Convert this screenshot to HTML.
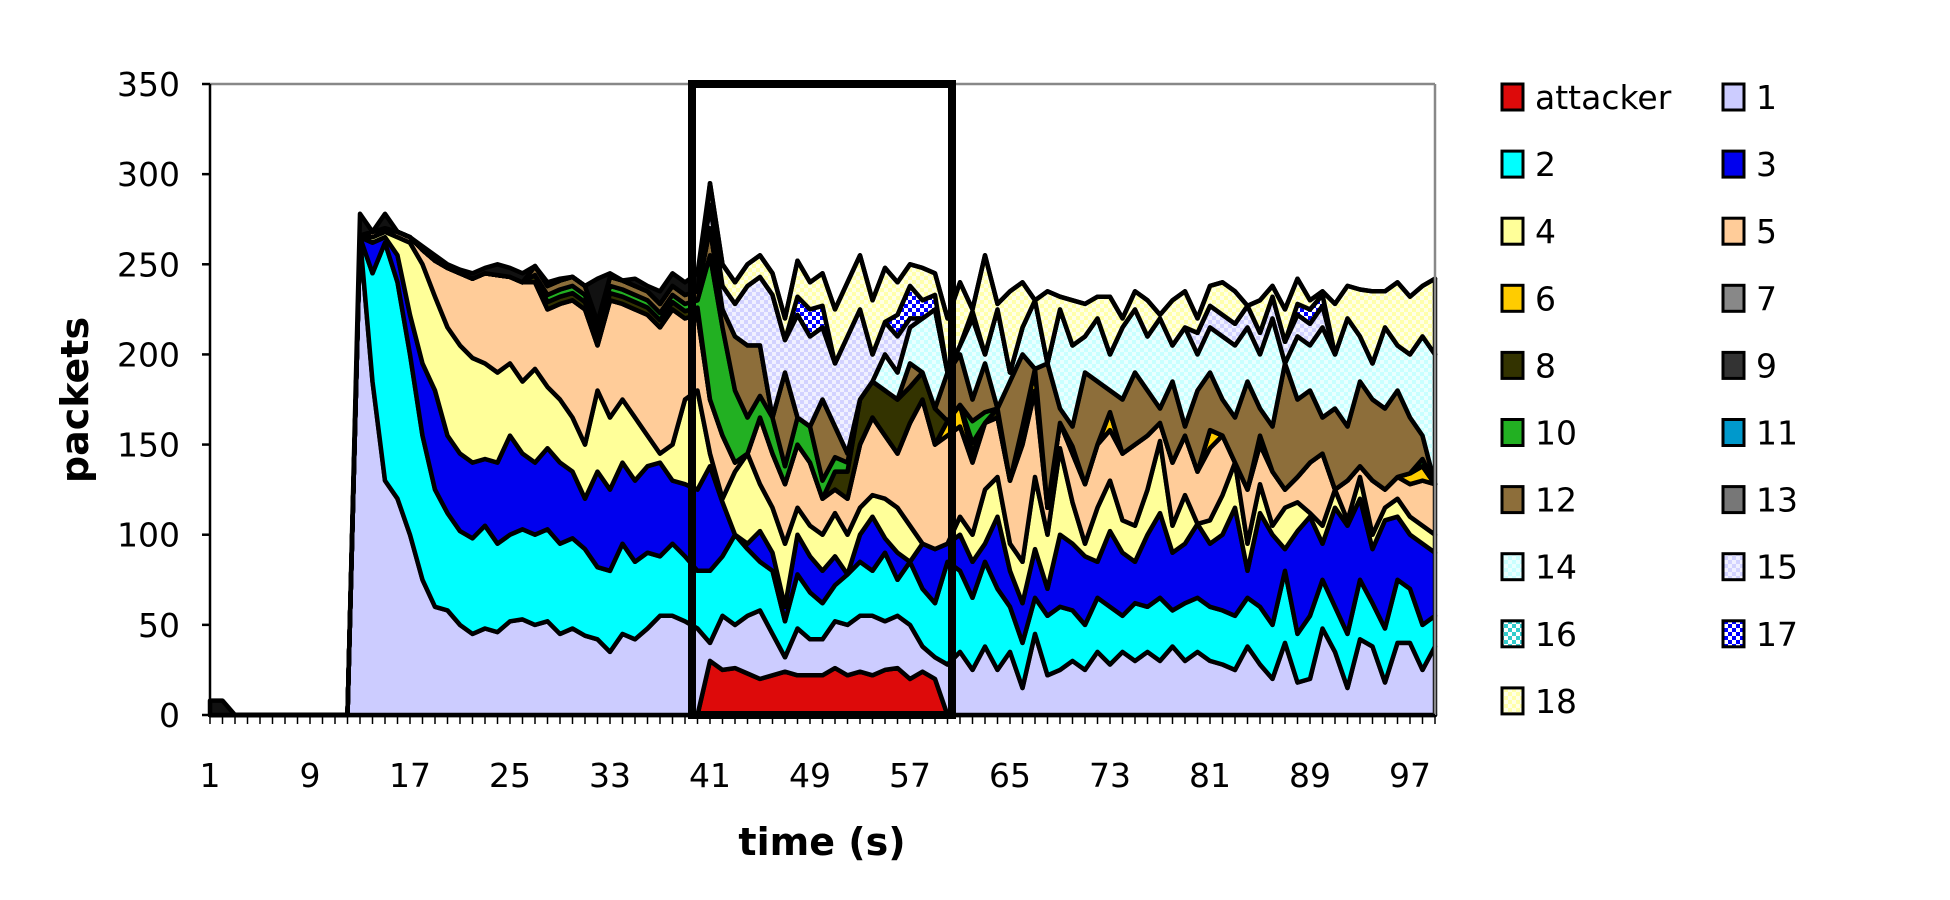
<!DOCTYPE html>
<html><head><meta charset="utf-8"><style>
html,body{margin:0;padding:0;background:#fff;width:1950px;height:900px;overflow:hidden}
svg{display:block}
text{font-family:"DejaVu Sans","Liberation Sans",sans-serif}
</style></head><body>
<svg id="c" width="1950" height="900" xmlns="http://www.w3.org/2000/svg">
<defs>
<pattern id="p14" width="8" height="8" patternUnits="userSpaceOnUse"><rect width="8" height="8" fill="#eaffff"/><rect width="4" height="4" fill="#c8ffff"/><rect x="4" y="4" width="4" height="4" fill="#c8ffff"/></pattern>
<pattern id="p15" width="8" height="8" patternUnits="userSpaceOnUse"><rect width="8" height="8" fill="#f0f0ff"/><rect width="4" height="4" fill="#d2d2ff"/><rect x="4" y="4" width="4" height="4" fill="#d2d2ff"/></pattern>
<pattern id="p16" width="8" height="8" patternUnits="userSpaceOnUse"><rect width="8" height="8" fill="#fff"/><rect width="4" height="4" fill="#33cccc"/><rect x="4" y="4" width="4" height="4" fill="#33cccc"/></pattern>
<pattern id="p17" width="8" height="8" patternUnits="userSpaceOnUse"><rect width="8" height="8" fill="#fff"/><rect width="4" height="4" fill="#0000ff"/><rect x="4" y="4" width="4" height="4" fill="#0000ff"/></pattern>
<pattern id="p18" width="8" height="8" patternUnits="userSpaceOnUse"><rect width="8" height="8" fill="#ffffe6"/><rect width="4" height="4" fill="#ffffaa"/><rect x="4" y="4" width="4" height="4" fill="#ffffaa"/></pattern>
</defs>
<g id="areas"></g>
<g id="axes"></g>
</svg>
<script>
const N=99;
const X=t=>210+(t-1)*12.5, Y=v=>715-v*631/350;
function arr(){return new Array(N+1).fill(null);}
function set(a,s,vals){vals.forEach((v,i)=>a[s+i]=v);return a;}
const Z=new Array(12).fill(0);
const A=arr(); set(A,1,new Array(99).fill(0)); set(A,41,[30,25,26,23,20,22,24,22,22,22,26,22,24,22,25,26,20,24,20]);
const B1=set(arr(),1,[...Z,265,185,130,120,100,75,60,58,50,45,48,46,52,53,50,52,45,48,44,42,35,45,42,48,55,55,52,48,
40,55,50,55,58,45,32,48,42,42,52,50,55,55,52,55,50,38,32,28,
35,25,38,25,35,15,45,22,25,30,25,35,28,35,30,35,30,38,30,35,30,28,25,38,28,20,40,18,20,48,35,15,42,38,18,40,40,25,38]);
const B2=set(arr(),1,[...Z,258,245,262,240,200,155,125,112,102,98,105,95,100,103,100,103,95,98,92,82,80,95,85,90,88,95,88,80,
80,88,100,92,85,80,52,78,68,62,72,78,85,80,90,75,85,70,62,85,
80,65,85,70,60,40,65,55,60,58,50,65,60,55,62,60,65,58,62,65,60,58,55,65,60,50,80,45,55,75,60,45,75,62,48,75,70,50,55]);
const B3=set(arr(),1,[...Z,262,262,265,255,222,195,180,155,145,140,142,140,155,145,140,148,140,135,120,135,125,140,130,138,140,130,128,125,
138,118,100,95,102,90,60,100,88,80,88,78,100,110,98,90,80,95,92,95,
100,85,95,110,80,62,92,70,100,95,88,85,102,90,85,100,112,90,95,106,95,100,115,80,112,100,92,102,110,95,115,105,120,92,108,110,100,95,90]);
const B4=set(arr(),1,[...Z,265,265,268,265,262,250,232,215,205,198,195,190,195,185,192,182,175,165,150,180,165,175,165,155,145,150,175,180,
145,120,135,145,128,115,95,115,105,100,112,100,115,122,120,115,105,95,88,95,
110,100,125,132,95,85,132,100,148,118,95,115,130,108,105,125,152,105,122,98,108,122,140,95,128,105,115,118,112,105,125,108,132,100,115,120,110,105,100]);
const B5=set(arr(),1,[...Z,266,268,270,268,265,258,252,248,245,242,245,244,243,240,240,225,228,230,225,205,230,228,225,222,215,225,220,222,
175,155,140,135,165,145,128,150,140,120,125,120,150,165,155,145,162,175,150,155,
160,140,162,165,130,150,180,115,162,145,128,150,158,145,150,155,162,140,155,135,148,155,140,125,150,135,125,132,140,145,122,130,138,130,125,132,128,130,128]);
const add={6:{},8:{},10:{}};
[[60,8],[61,12],[62,5],[66,10],[67,12],[73,10],[81,10],[97,6],[98,8]].forEach(([t,v])=>add[6][t]=v);
for(let t=27;t<=40;t++)add[8][t]=4;
[[51,10],[52,15],[53,25],[54,20],[55,25],[56,30],[57,20],[58,15],[59,20],[62,6],[64,5],[70,4],[85,5]].forEach(([t,v])=>add[8][t]=v);
for(let t=28;t<=40;t++)add[10][t]=4;
[[41,80],[42,60],[43,40],[44,20],[45,12],[46,20],[47,10],[48,15],[49,20],[50,10],[51,8],[52,5],[62,12],[63,6],[98,4]].forEach(([t,v])=>add[10][t]=v);
const T12=set(arr(),41,[270,225,210,205,205,165,190,165,160,175,160,145,170,180,175,165,195,185,160,
190,200,175,195,160,185,200,150,195,170,160,190,185,180,175,190,180,170,185,160,180,190,175,165,185,170,160,195,175,180,165,170,160,185,175,170,180,165,155]);
const TOP=set(arr(),1,[8,8,0,0,0,0,0,0,0,0,0,0,278,262,278,268,265,260,255,250,247,245,248,250,248,245,248,240,242,243,230,242,245,240,242,238,235,245,240,245,
295,250,240,250,255,245,220,252,240,245,225,240,255,230,248,240,250,248,245,220,
240,225,255,228,235,240,230,235,232,230,228,232,232,220,235,230,222,230,235,220,238,240,235,225,230,238,225,242,230,235,228,238,236,235,235,240,232,238,242]);
const T14=set(arr(),53,[175,170,200,190,215,220,225]);
set(T14,61,[205,220,200,225,190,215,230,195,225,205,210,220,200,215,225,210,220,205,215,200,215,210,205,215,200,220,195,210,205,215,200,220,210,195,215,205,200,210,200]);
const T15=arr(); for(let t=41;t<=59;t++)T15[t]=TOP[t]-(t<=47?12:30);
for(let t=80;t<=90;t++)T15[t]=(T14[t]||0)+12;
const T17=arr(); [[48,10],[49,15],[50,12],[56,12],[57,18],[58,10],[59,8],[88,6],[89,8],[90,6],[62,4]].forEach(([t,v])=>T17[t]=v);
const layers=[];
let prev=new Array(N+1).fill(0);
function push(fill,fn){const cur=[];for(let t=1;t<=N;t++)cur[t]=Math.max(prev[t],fn(t));layers.push({fill,lo:prev,hi:cur});prev=cur;}
push('#dd0a0a',t=>A[t]);
push('#ccccff',t=>B1[t]);
push('#00ffff',t=>B2[t]);
push('#0000ee',t=>B3[t]);
push('#ffff99',t=>B4[t]);
push('#ffcc99',t=>B5[t]);
push('#ffcc00',t=>prev[t]+(add[6][t]||0));
push('#333300',t=>prev[t]+(add[8][t]||0));
push('#22b022',t=>prev[t]+(add[10][t]||0));
push('#8d6e3a',t=>Math.max(prev[t]+((t>=27&&t<=40)?5:0),T12[t]||0));
push('url(#p14)',t=>T14[t]||0);
push('url(#p15)',t=>T15[t]||0);
push('url(#p17)',t=>prev[t]+(T17[t]||0));
push('url(#p18)',t=>(t>=41)?TOP[t]:0);
push('#111',t=>TOP[t]);
let g='';
for(const L of layers){
 let d='M';
 for(let t=1;t<=N;t++)d+=X(t).toFixed(1)+','+Y(L.hi[t]).toFixed(1)+' ';
 for(let t=N;t>=1;t--)d+=X(t).toFixed(1)+','+Y(L.lo[t]).toFixed(1)+' ';
 g+=`<path d="${d}Z" fill="${L.fill}" stroke="#000" stroke-width="4.5" stroke-linejoin="round"/>`;
}
document.getElementById('areas').innerHTML=g;
let a='';
a+=`<line x1="210" y1="84" x2="1435" y2="84" stroke="#888" stroke-width="2.5"/><line x1="1435" y1="84" x2="1435" y2="715" stroke="#888" stroke-width="2.5"/>`;
a+=`<line x1="210" y1="84" x2="210" y2="716" stroke="#000" stroke-width="2.5"/><line x1="210" y1="715" x2="1435" y2="715" stroke="#000" stroke-width="2.5"/>`;
for(let v=0;v<=350;v+=50){const y=Y(v);a+=`<line x1="202" y1="${y}" x2="210" y2="${y}" stroke="#000" stroke-width="2.5"/><text x="180" y="${y+12}" font-size="33" text-anchor="end">${v}</text>`;}
for(let t=1;t<=N;t++){const x=210+(t-1)*12.5;a+=`<line x1="${x}" y1="715" x2="${x}" y2="724" stroke="#000" stroke-width="1.5"/>`;}
for(let t=1;t<=97;t+=8)a+=`<text x="${X(t)}" y="787" font-size="33" text-anchor="middle">${t}</text>`;
a+=`<text x="822" y="855" font-size="38" font-weight="bold" text-anchor="middle">time (s)</text>`;
a+=`<text transform="translate(88,400) rotate(-90)" font-size="38" font-weight="bold" text-anchor="middle">packets</text>`;
a+=`<rect x="692" y="84" width="260" height="631" fill="none" stroke="#000" stroke-width="8"/>`;
const leg=[['attacker','#dd0a0a'],['1','#ccccff'],['2','#00ffff'],['3','#0000ee'],['4','#ffff99'],['5','#ffcc99'],['6','#ffcc00'],['7','#888'],['8','#333300'],['9','#333'],['10','#22b022'],['11','#0099cc'],['12','#8d6e3a'],['13','#777'],['14','url(#p14)'],['15','url(#p15)'],['16','url(#p16)'],['17','url(#p17)'],['18','url(#p18)']];
leg.forEach(([n,f],i)=>{const col=i%2,row=Math.floor(i/2);const x=col?1723:1502,y=97+row*67.1;
a+=`<rect x="${x}" y="${y-13}" width="21" height="26" fill="${f}" stroke="#000" stroke-width="3"/><text x="${x+33}" y="${y+12}" font-size="33">${n}</text>`;});
document.getElementById('axes').innerHTML=a;
</script>
</body></html>
